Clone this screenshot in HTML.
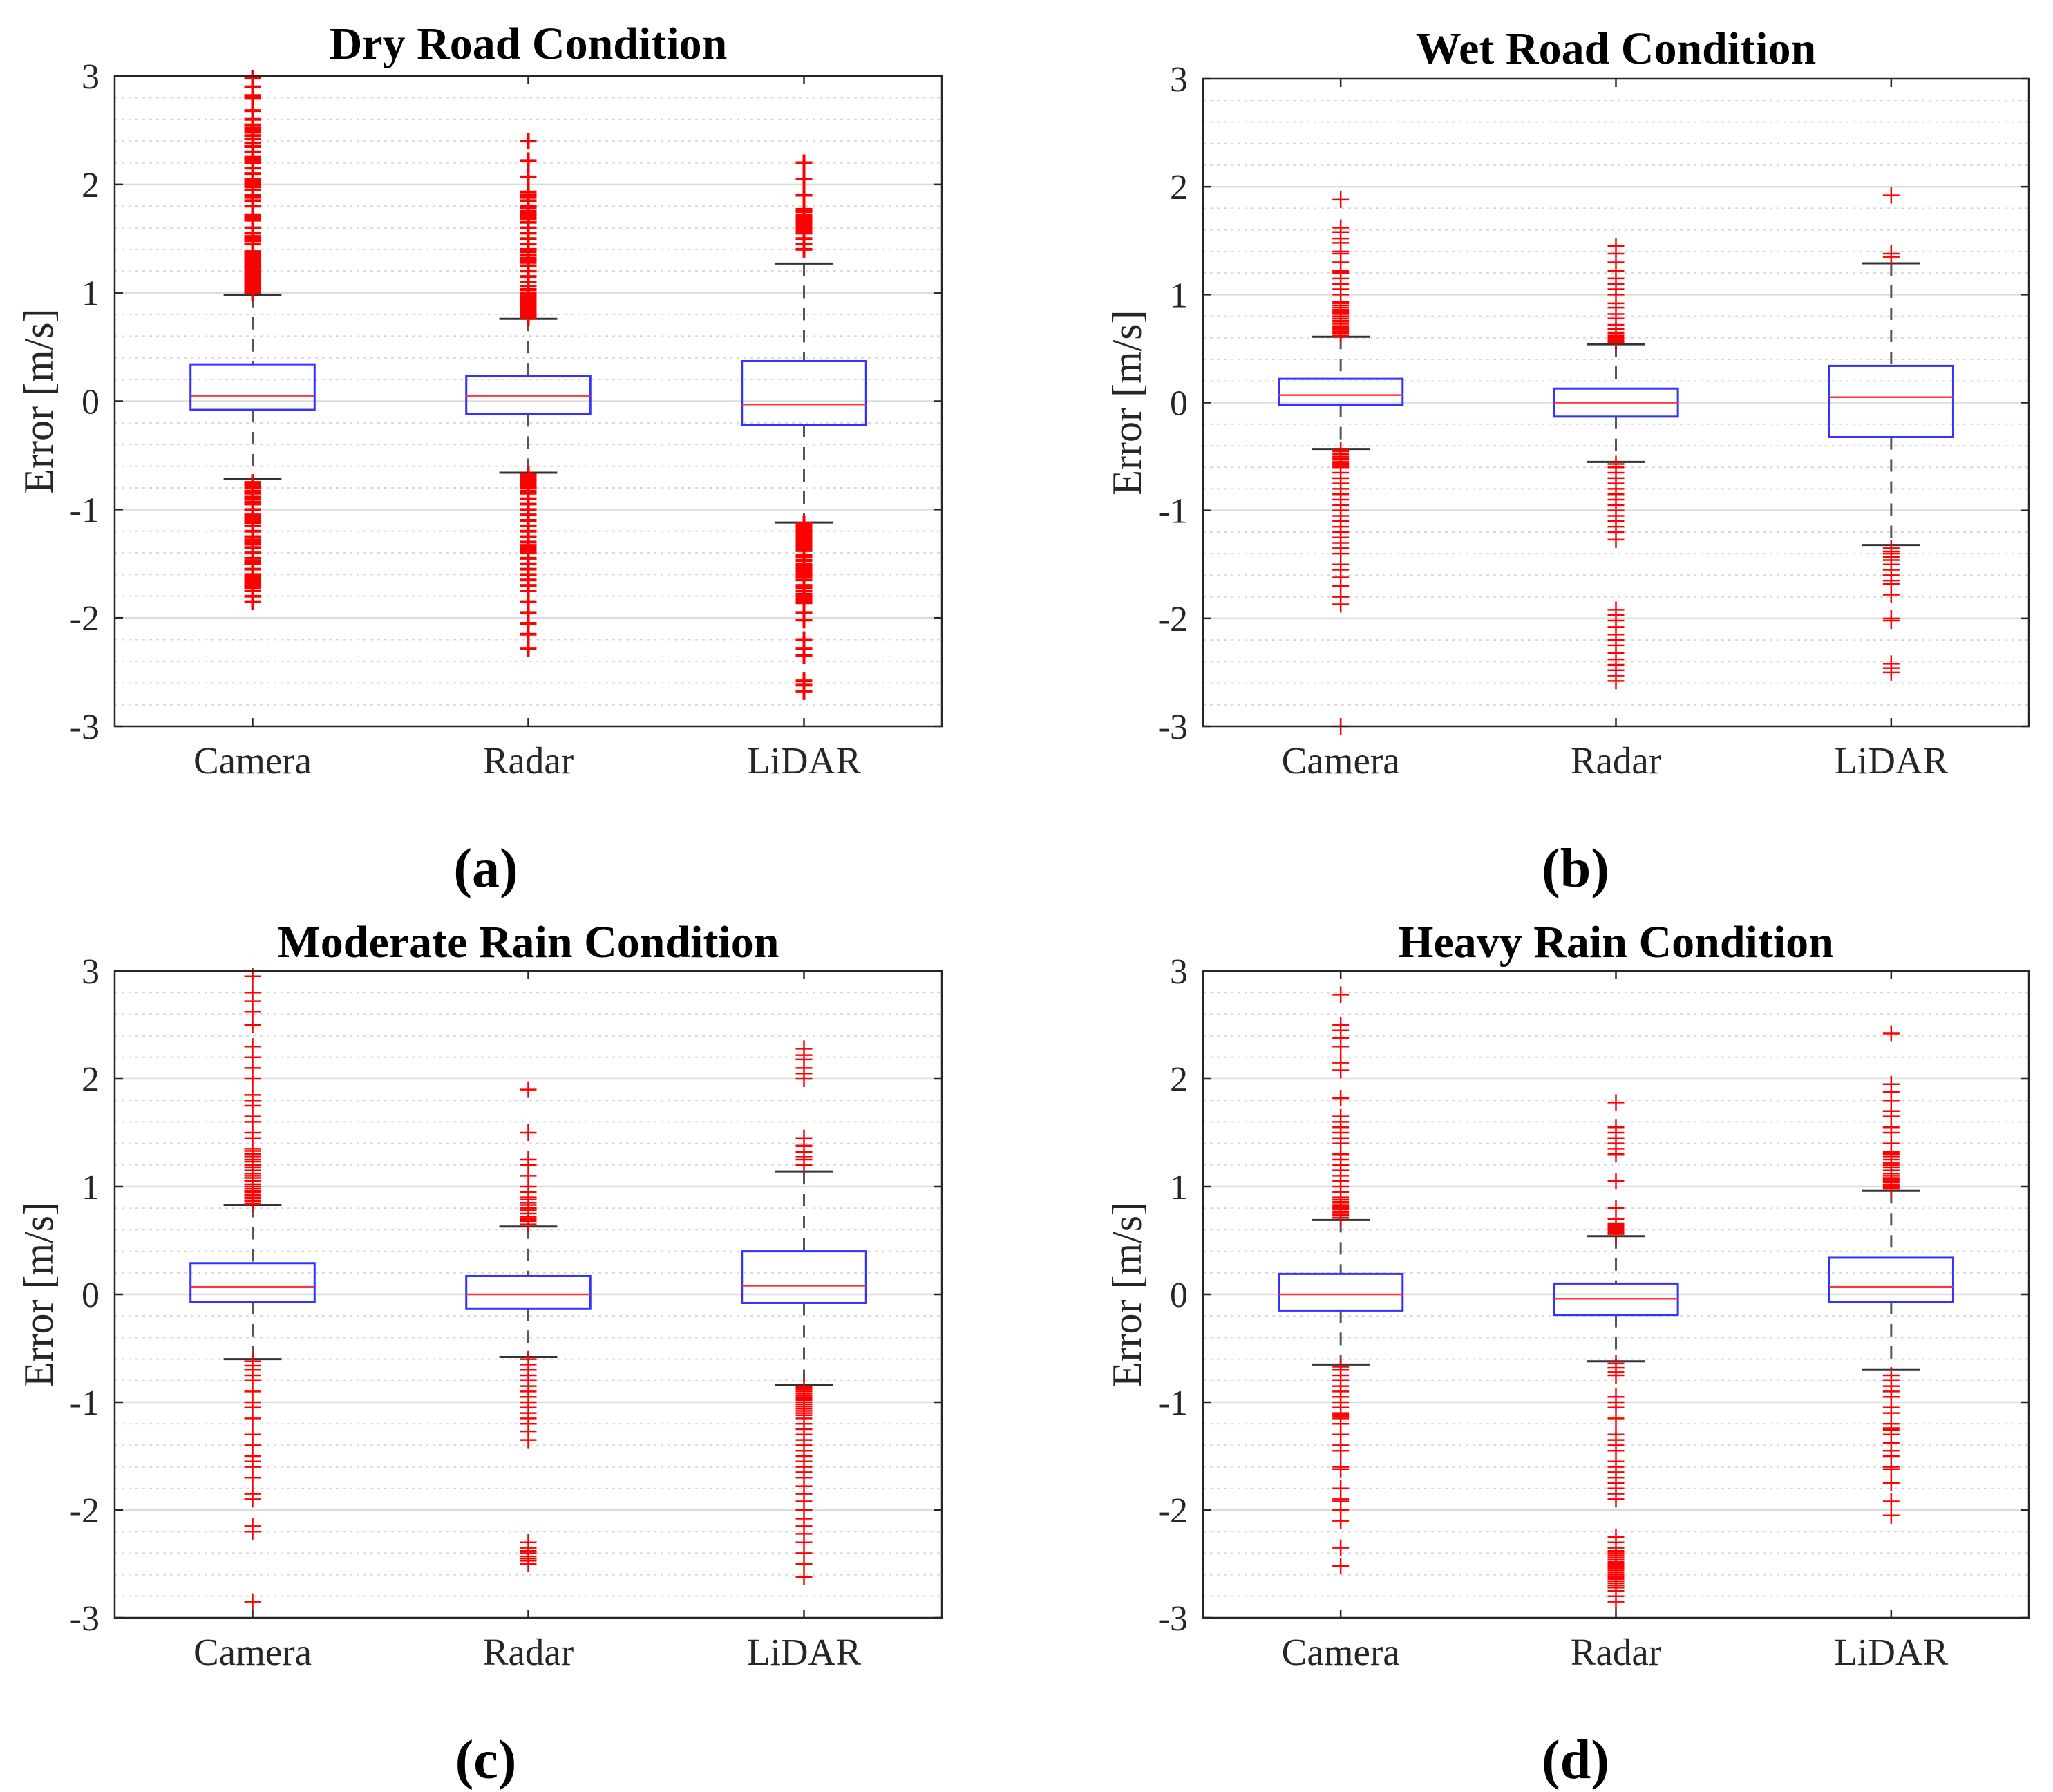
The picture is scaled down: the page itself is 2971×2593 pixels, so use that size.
<!DOCTYPE html>
<html><head><meta charset="utf-8"><style>
html,body{margin:0;padding:0;background:#fff}
svg{display:block}
text{font-family:"Liberation Serif",serif}
</style></head><body>
<svg id="fig" width="2971" height="2593" viewBox="0 0 2971 2593" xmlns="http://www.w3.org/2000/svg"></svg>
<script>
const categories = ["Camera","Radar","LiDAR"];
const yTicks = [-3,-2,-1,0,1,2,3];
const panelTitles = ["Dry Road Condition","Wet Road Condition","Moderate Rain Condition","Heavy Rain Condition"];
const panelLetters = ["(a)","(b)","(c)","(d)"];
// per panel, per category: [lowerWhisker, q1, median, q3, upperWhisker]
const statsA = [[-0.72,-0.08,0.05,0.34,0.98],[-0.66,-0.12,0.05,0.23,0.76],[-1.12,-0.22,-0.03,0.37,1.27]];
const statsB = [[-0.43,-0.02,0.07,0.22,0.61],[-0.55,-0.13,0.0,0.13,0.54],[-1.32,-0.32,0.05,0.34,1.29]];
const statsC = [[-0.60,-0.07,0.07,0.29,0.83],[-0.58,-0.13,0.0,0.17,0.63],[-0.84,-0.08,0.08,0.40,1.14]];
const statsD = [[-0.65,-0.15,0.0,0.19,0.69],[-0.62,-0.19,-0.04,0.10,0.54],[-0.70,-0.07,0.07,0.34,0.96]];
const outA = [
 [1.0,1.01,1.02,1.03,1.04,1.05,1.06,1.07,1.08,1.09,1.1,1.11,1.12,1.13,1.14,1.15,1.16,1.18,1.2,1.22,1.24,1.26,1.28,1.29,1.3,1.31,1.32,1.33,1.35,1.36,1.38,1.45,1.48,1.5,1.52,1.55,1.6,1.67,1.68,1.69,1.7,1.71,1.72,1.8,1.85,1.88,1.9,1.95,1.98,2.0,2.02,2.04,2.05,2.1,2.15,2.2,2.22,2.24,2.25,2.3,2.35,2.38,2.42,2.45,2.48,2.5,2.52,2.55,2.6,2.68,2.8,2.82,2.9,2.98,
  -0.75,-0.78,-0.8,-0.83,-0.85,-0.88,-0.9,-0.93,-0.95,-1.0,-1.05,-1.06,-1.08,-1.1,-1.12,-1.15,-1.2,-1.25,-1.28,-1.3,-1.32,-1.35,-1.4,-1.45,-1.48,-1.5,-1.55,-1.6,-1.62,-1.63,-1.65,-1.67,-1.68,-1.7,-1.72,-1.75,-1.8,-1.85],
 [0.77,0.78,0.79,0.8,0.82,0.83,0.85,0.86,0.88,0.9,0.92,0.93,0.95,0.96,0.98,1.0,1.03,1.06,1.1,1.15,1.2,1.25,1.28,1.3,1.32,1.35,1.38,1.4,1.45,1.5,1.55,1.6,1.65,1.68,1.7,1.72,1.74,1.75,1.78,1.8,1.85,1.88,1.9,1.93,2.07,2.22,2.4,
  -0.68,-0.7,-0.72,-0.74,-0.76,-0.78,-0.8,-0.83,-0.85,-0.9,-0.95,-1.0,-1.05,-1.1,-1.15,-1.2,-1.25,-1.3,-1.33,-1.35,-1.37,-1.38,-1.4,-1.45,-1.5,-1.55,-1.6,-1.65,-1.7,-1.75,-1.85,-1.95,-2.05,-2.15,-2.28],
 [1.4,1.45,1.5,1.55,1.57,1.58,1.6,1.61,1.62,1.63,1.65,1.66,1.68,1.7,1.72,1.75,1.77,1.9,2.05,2.2,
  -1.13,-1.14,-1.15,-1.17,-1.18,-1.2,-1.21,-1.23,-1.24,-1.26,-1.27,-1.29,-1.3,-1.32,-1.33,-1.35,-1.38,-1.42,-1.44,-1.47,-1.5,-1.52,-1.53,-1.55,-1.56,-1.58,-1.6,-1.62,-1.65,-1.7,-1.72,-1.75,-1.78,-1.8,-1.82,-1.84,-1.86,-1.95,-2.02,-2.2,-2.28,-2.35,-2.58,-2.62,-2.68]
];
const outB = [
 [0.62,0.64,0.65,0.66,0.68,0.7,0.71,0.73,0.75,0.76,0.78,0.8,0.82,0.83,0.85,0.86,0.88,0.9,0.92,0.93,1.0,1.05,1.1,1.15,1.2,1.22,1.3,1.38,1.4,1.48,1.52,1.58,1.62,1.88,
  -0.44,-0.45,-0.47,-0.48,-0.5,-0.52,-0.53,-0.55,-0.56,-0.58,-0.6,-0.65,-0.7,-0.75,-0.8,-0.85,-0.9,-0.95,-1.0,-1.05,-1.1,-1.15,-1.2,-1.25,-1.3,-1.35,-1.4,-1.5,-1.55,-1.62,-1.7,-1.8,-1.87,-3.0],
 [0.56,0.57,0.58,0.6,0.61,0.62,0.64,0.65,0.68,0.72,0.78,0.82,0.88,0.92,1.0,1.05,1.1,1.15,1.22,1.3,1.38,1.45,
  -0.57,-0.6,-0.65,-0.7,-0.75,-0.8,-0.85,-0.9,-0.95,-1.0,-1.05,-1.1,-1.15,-1.2,-1.27,
  -1.92,-1.97,-2.02,-2.08,-2.15,-2.2,-2.25,-2.32,-2.38,-2.43,-2.48,-2.53,-2.58],
 [1.35,1.38,1.92,
  -1.35,-1.38,-1.4,-1.43,-1.46,-1.5,-1.55,-1.6,-1.65,-1.68,-1.78,-2.0,-2.02,-2.42,-2.46,-2.5]
];
const outC = [
 [0.84,0.86,0.87,0.89,0.9,0.92,0.93,0.95,0.96,0.98,1.0,1.02,1.05,1.08,1.1,1.12,1.15,1.18,1.2,1.23,1.25,1.28,1.3,1.33,1.35,1.45,1.5,1.6,1.65,1.75,1.8,1.85,2.0,2.1,2.2,2.3,2.5,2.62,2.72,2.8,2.95,
  -0.62,-0.66,-0.7,-0.75,-0.8,-0.9,-1.0,-1.05,-1.15,-1.3,-1.4,-1.5,-1.55,-1.6,-1.7,-1.85,-1.9,-2.15,-2.2,-2.85],
 [0.65,0.68,0.7,0.72,0.75,0.78,0.8,0.83,0.85,0.88,0.9,0.95,1.0,1.1,1.2,1.25,1.5,1.9,
  -0.6,-0.65,-0.7,-0.75,-0.8,-0.85,-0.9,-0.95,-1.0,-1.05,-1.1,-1.15,-1.2,-1.27,-1.35,
  -2.3,-2.35,-2.38,-2.4,-2.43,-2.45,-2.47,-2.5],
 [1.2,1.25,1.28,1.32,1.38,1.45,2.0,2.05,2.1,2.18,2.22,2.28,
  -0.86,-0.88,-0.9,-0.92,-0.94,-0.96,-0.98,-1.0,-1.02,-1.04,-1.06,-1.08,-1.1,-1.12,-1.15,-1.2,-1.25,-1.3,-1.35,-1.4,-1.45,-1.5,-1.55,-1.6,-1.65,-1.7,-1.78,-1.85,-1.92,-2.0,-2.08,-2.15,-2.22,-2.3,-2.4,-2.5,-2.62]
];
const outD = [
 [0.71,0.73,0.74,0.76,0.77,0.79,0.8,0.82,0.83,0.85,0.86,0.88,0.9,0.95,1.0,1.05,1.1,1.15,1.2,1.25,1.3,1.4,1.45,1.5,1.55,1.6,1.65,1.82,2.08,2.15,2.3,2.38,2.45,2.5,2.78,
  -0.67,-0.7,-0.75,-0.8,-0.85,-0.9,-0.95,-1.0,-1.05,-1.1,-1.11,-1.12,-1.13,-1.15,-1.2,-1.3,-1.4,-1.45,-1.6,-1.62,-1.8,-1.9,-1.92,-2.0,-2.1,-2.35,-2.52],
 [0.56,0.57,0.58,0.59,0.6,0.61,0.62,0.63,0.64,0.65,0.66,0.7,0.8,1.05,1.3,1.35,1.4,1.45,1.5,1.55,1.78,
  -0.64,-0.68,-0.72,-0.75,-0.95,-1.0,-1.05,-1.15,-1.3,-1.35,-1.4,-1.45,-1.55,-1.6,-1.65,-1.7,-1.75,-1.8,-1.85,-1.9,
  -2.25,-2.3,-2.35,-2.38,-2.4,-2.42,-2.44,-2.46,-2.48,-2.5,-2.52,-2.54,-2.56,-2.58,-2.6,-2.62,-2.64,-2.66,-2.68,-2.7,-2.72,-2.75,-2.8,-2.85],
 [0.98,0.99,1.0,1.01,1.02,1.04,1.05,1.07,1.08,1.1,1.12,1.15,1.18,1.2,1.22,1.25,1.28,1.3,1.32,1.4,1.5,1.55,1.65,1.7,1.8,1.88,1.95,2.42,
  -0.75,-0.8,-0.85,-0.9,-0.95,-1.05,-1.1,-1.2,-1.24,-1.25,-1.26,-1.3,-1.38,-1.45,-1.5,-1.6,-1.62,-1.75,-1.92,-2.05]
];
const allStats = [statsA,statsB,statsC,statsD];
const allOut = [outA,outB,outC,outD];

const NS = "http://www.w3.org/2000/svg";
const svg = document.getElementById('fig');
function el(tag, attrs, parent){const e=document.createElementNS(NS,tag);for(const k in attrs)e.setAttribute(k,attrs[k]);(parent||svg).appendChild(e);return e;}

const layouts = [
 {L:166,R:1363,T:110,B:1051,ty:63,ly:1255,lx:703},
 {L:1741,R:2936,T:114,B:1051,ty:70,ly:1255,lx:2280},
 {L:166,R:1363,T:1405,B:2341,ty:1363,ly:2545,lx:703},
 {L:1741,R:2936,T:1405,B:2341,ty:1363,ly:2545,lx:2280}
];

layouts.forEach((Lo,pi)=>{
  const g = el('g',{});
  
  
  const W=Lo.R-Lo.L;
  const xS = v => Lo.L + (v-0.5)/3*W;
  const yS = v => Lo.B - (v+3)/6*(Lo.B-Lo.T);
  for(let k=-30;k<=30;k+=2){ if(k%10===0) continue; const y=yS(k/10);
    const l=el('line',{x1:Lo.L,x2:Lo.R,y1:y,y2:y,stroke:'#d8d8d8','stroke-width':2,'stroke-dasharray':'4 6'},g);
      }
  yTicks.forEach(t=>{ const y=yS(t);
    if(t>-3&&t<3){const l=el('line',{x1:Lo.L,x2:Lo.R,y1:y,y2:y,stroke:'#dcdcdc','stroke-width':2.5},g);
       }
    el('line',{x1:Lo.L,x2:Lo.L+12,y1:y,y2:y,stroke:'#262626','stroke-width':2.5},g);
    el('line',{x1:Lo.R,x2:Lo.R-12,y1:y,y2:y,stroke:'#262626','stroke-width':2.5},g);
    const tx=el('text',{x:Lo.L-22,y:y+18,'text-anchor':'end','font-size':52,fill:'#262626'},g);
    tx.textContent=String(t);
     
  });
  const stats=allStats[pi], outs=allOut[pi];
  categories.forEach((c,ci)=>{
    const xc=xS(ci+1), hw=0.225/3*W, cw=0.105/3*W;
    el('line',{x1:xc,x2:xc,y1:Lo.T,y2:Lo.T+12,stroke:'#262626','stroke-width':2.5},g);
    el('line',{x1:xc,x2:xc,y1:Lo.B,y2:Lo.B-12,stroke:'#262626','stroke-width':2.5},g);
    const s=stats[ci];
    const wl=el('path',{d:`M${xc},${yS(s[4])}V${yS(s[3])}M${xc},${yS(s[1])}V${yS(s[0])}`,stroke:'#555','stroke-width':3,'stroke-dasharray':'18 14',fill:'none'},g);
     
    [s[0],s[4]].forEach(v=>{const cap=el('line',{x1:xc-cw,x2:xc+cw,y1:yS(v),y2:yS(v),stroke:'#333','stroke-width':3},g);
       });
    const bx=el('rect',{x:xc-hw,y:yS(s[3]),width:2*hw,height:yS(s[1])-yS(s[3]),fill:'none',stroke:'#3333ff','stroke-width':3},g);
     
    const md=el('line',{x1:xc-hw,x2:xc+hw,y1:yS(s[2]),y2:yS(s[2]),stroke:'#ff3333','stroke-width':2.5},g);
     
    let d='';
    outs[ci].forEach(v=>{const y=yS(v);d+=`M${xc-12},${y}H${xc+12}M${xc},${y-12}V${y+12}`;});
    const op=el('path',{d:d,stroke:'#ff0000','stroke-width':pi===0?4:2.5,fill:'none'},g);
     
    const xl=el('text',{x:xc,y:Lo.B+68,'text-anchor':'middle','font-size':55,fill:'#262626'},g);
    xl.textContent=c;
     
  });
  const fr=el('rect',{x:Lo.L,y:Lo.T,width:W,height:Lo.B-Lo.T,fill:'none',stroke:'#262626','stroke-width':2.5},g);
   
  const yl=el('text',{x:0,y:0,transform:`translate(${Lo.L-90},${(Lo.T+Lo.B)/2}) rotate(-90)`,'text-anchor':'middle','font-size':60,fill:'#262626'},g);
  yl.textContent='Error [m/s]';
   
  const tt=el('text',{x:(Lo.L+Lo.R)/2,y:Lo.ty+22,'text-anchor':'middle','font-size':66,'font-weight':'bold',fill:'#000'},g);
  tt.textContent=panelTitles[pi];
   
  const lt=el('text',{x:Lo.lx,y:Lo.ly+28,'text-anchor':'middle','font-size':80,'font-weight':'bold',fill:'#000'},g);
  lt.textContent=panelLetters[pi];
   
});
</script>
</body></html>
